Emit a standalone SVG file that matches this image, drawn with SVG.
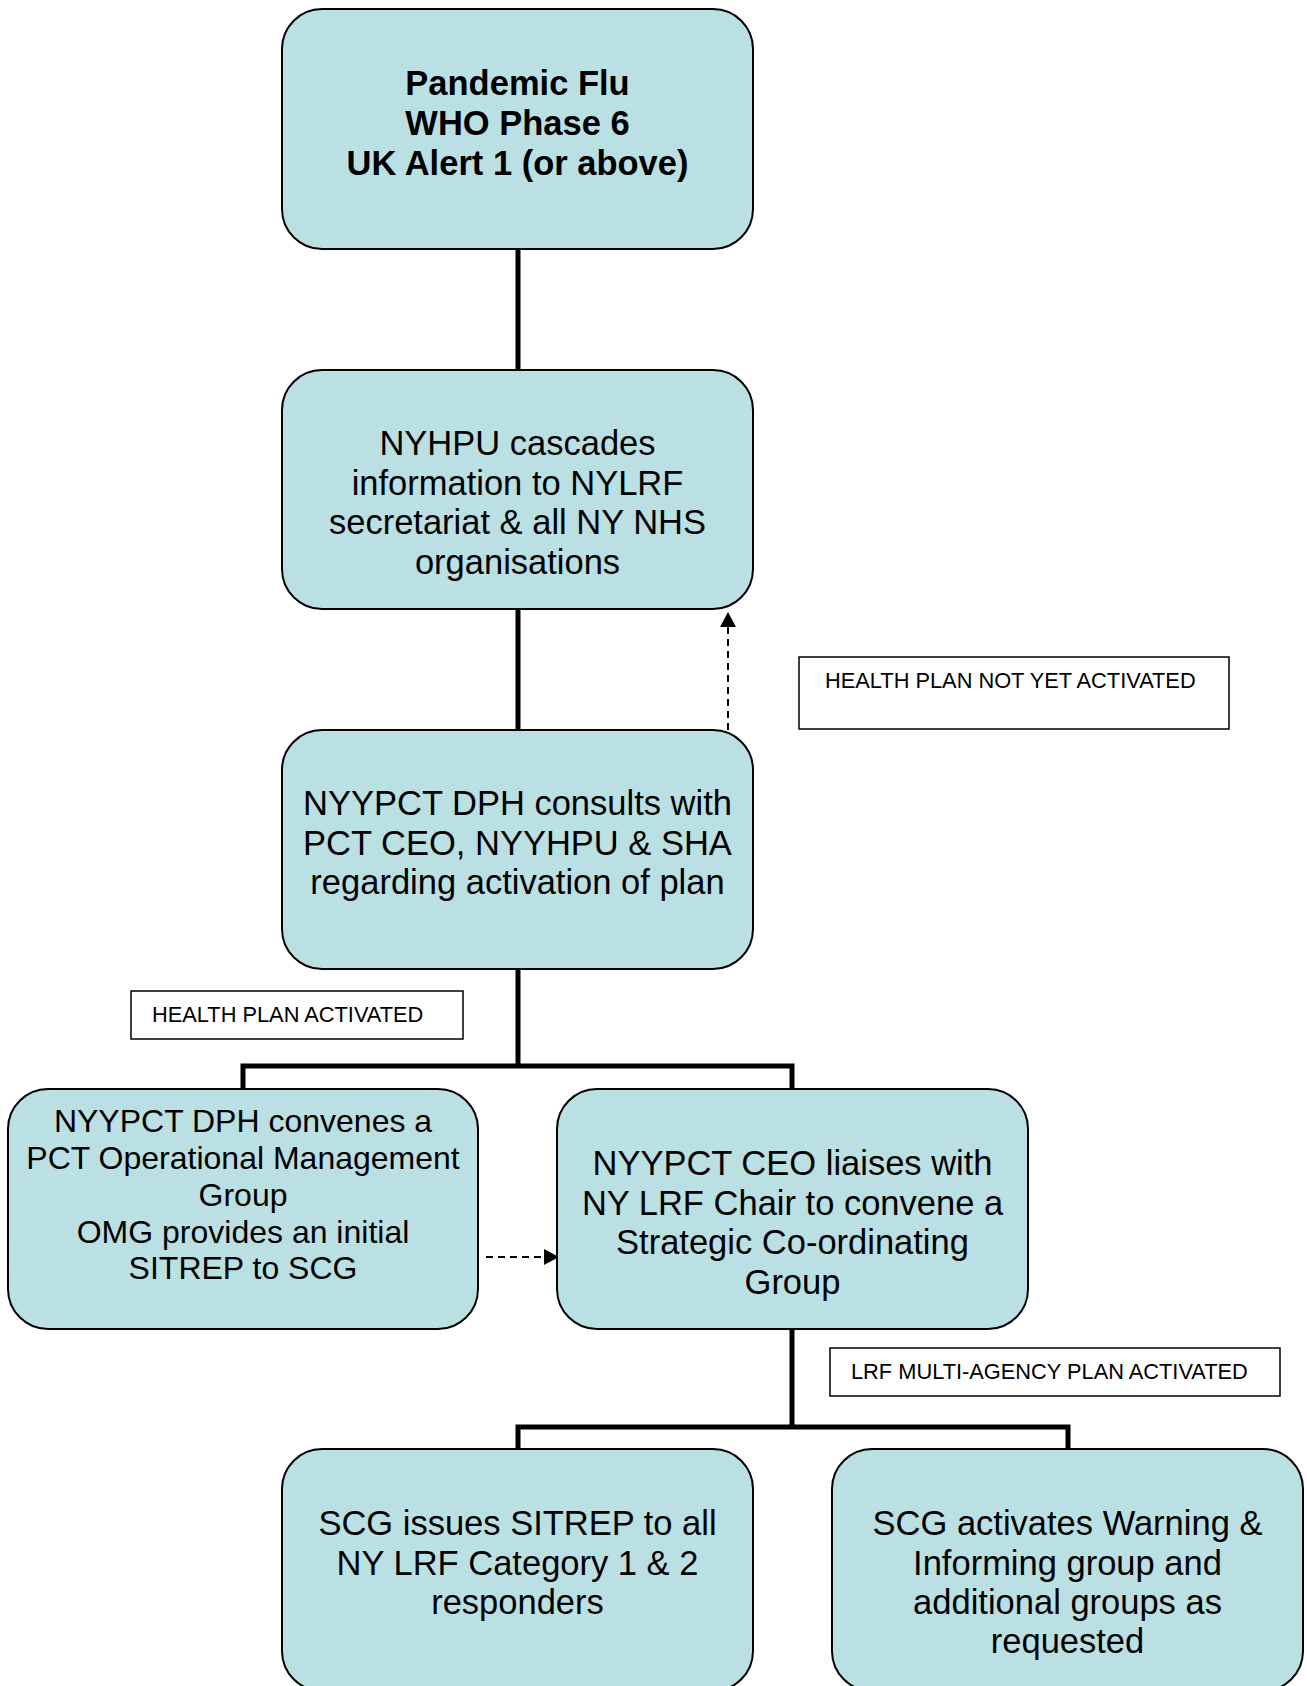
<svg xmlns="http://www.w3.org/2000/svg" width="1307" height="1686" viewBox="0 0 1307 1686">
<style>
.node rect{fill:#BAE0E3;stroke:#000;stroke-width:2}
.node text{font-family:"Liberation Sans",Arial,sans-serif;font-size:34.5px;text-anchor:middle;fill:#000}
.label rect{fill:#fff;stroke:#000;stroke-width:1.5}
.label text{font-family:"Liberation Sans",Arial,sans-serif;font-size:21.8px;fill:#000}
.solid{fill:none;stroke:#000;stroke-width:5}
.dash{fill:none;stroke:#000;stroke-width:2;stroke-dasharray:7 5}
</style>
<defs>
<marker id="ah2" markerWidth="16" markerHeight="16" refX="14" refY="8" orient="auto" markerUnits="userSpaceOnUse" viewBox="0 0 16 16">
<path d="M0,0 L15,8 L0,16 Z" fill="#000"/>
</marker>
</defs>
<rect width="1307" height="1686" fill="#fff"/>
<g id="connectors">
<line class="solid" x1="518" y1="249" x2="518" y2="370"/>
<line class="solid" x1="518" y1="609" x2="518" y2="730"/>
<polyline class="solid" points="518,969 518,1066"/>
<polyline class="solid" points="243,1089 243,1066 792,1066 792,1089"/>
<polyline class="solid" points="792,1329 792,1427"/>
<polyline class="solid" points="518,1449 518,1427 1068,1427 1068,1449"/>
<line class="dash" x1="728" y1="730" x2="728" y2="613" marker-end="url(#ah2)"/>
<line class="dash" x1="486" y1="1257" x2="558" y2="1257" marker-end="url(#ah2)"/>
</g>
<g id="node-pandemic" class="node">
<rect x="282" y="9" width="471" height="240" rx="40"/>
<text font-weight="bold"><tspan x="517.5" y="95">Pandemic Flu</tspan><tspan x="517.5" y="135">WHO Phase 6</tspan><tspan x="517.5" y="175">UK Alert 1 (or above)</tspan></text>
</g>
<g id="node-nyhpu" class="node">
<rect x="282" y="370" width="471" height="239" rx="40"/>
<text><tspan x="517.5" y="455">NYHPU cascades</tspan><tspan x="517.5" y="495">information to NYLRF</tspan><tspan x="517.5" y="534">secretariat &amp; all NY NHS</tspan><tspan x="517.5" y="574">organisations</tspan></text>
</g>
<g id="node-dph-consults" class="node">
<rect x="282" y="730" width="471" height="239" rx="40"/>
<text><tspan x="517.5" y="815">NYYPCT DPH consults with</tspan><tspan x="517.5" y="855">PCT CEO, NYYHPU &amp; SHA</tspan><tspan x="517.5" y="894">regarding activation of plan</tspan></text>
</g>
<g id="node-omg" class="node">
<rect x="8" y="1089" width="470" height="240" rx="40"/>
<text style="font-size:32px"><tspan x="243" y="1132">NYYPCT DPH convenes a</tspan><tspan x="243" y="1169">PCT Operational Management</tspan><tspan x="243" y="1205.5">Group</tspan><tspan x="243" y="1242.5">OMG provides an initial</tspan><tspan x="243" y="1279">SITREP to SCG</tspan></text>
</g>
<g id="node-scg-convene" class="node">
<rect x="557" y="1089" width="471" height="240" rx="40"/>
<text><tspan x="792.5" y="1175">NYYPCT CEO liaises with</tspan><tspan x="792.5" y="1215">NY LRF Chair to convene a</tspan><tspan x="792.5" y="1254">Strategic Co-ordinating</tspan><tspan x="792.5" y="1294">Group</tspan></text>
</g>
<g id="node-sitrep" class="node">
<rect x="282" y="1449" width="471" height="242" rx="40"/>
<text><tspan x="517.5" y="1535">SCG issues SITREP to all</tspan><tspan x="517.5" y="1575">NY LRF Category 1 &amp; 2</tspan><tspan x="517.5" y="1614">responders</tspan></text>
</g>
<g id="node-warning" class="node">
<rect x="832" y="1449" width="471" height="242" rx="40"/>
<text><tspan x="1067.5" y="1535">SCG activates Warning &amp;</tspan><tspan x="1067.5" y="1575">Informing group and</tspan><tspan x="1067.5" y="1614">additional groups as</tspan><tspan x="1067.5" y="1653">requested</tspan></text>
</g>
<g id="label-not-activated" class="label">
<rect x="799" y="657" width="430" height="72"/>
<text x="825" y="688">HEALTH PLAN NOT YET ACTIVATED</text>
</g>
<g id="label-activated" class="label">
<rect x="131" y="991" width="332" height="48"/>
<text x="152" y="1022">HEALTH PLAN ACTIVATED</text>
</g>
<g id="label-lrf" class="label">
<rect x="830" y="1348" width="450" height="48"/>
<text x="851" y="1379">LRF MULTI-AGENCY PLAN ACTIVATED</text>
</g>
</svg>
